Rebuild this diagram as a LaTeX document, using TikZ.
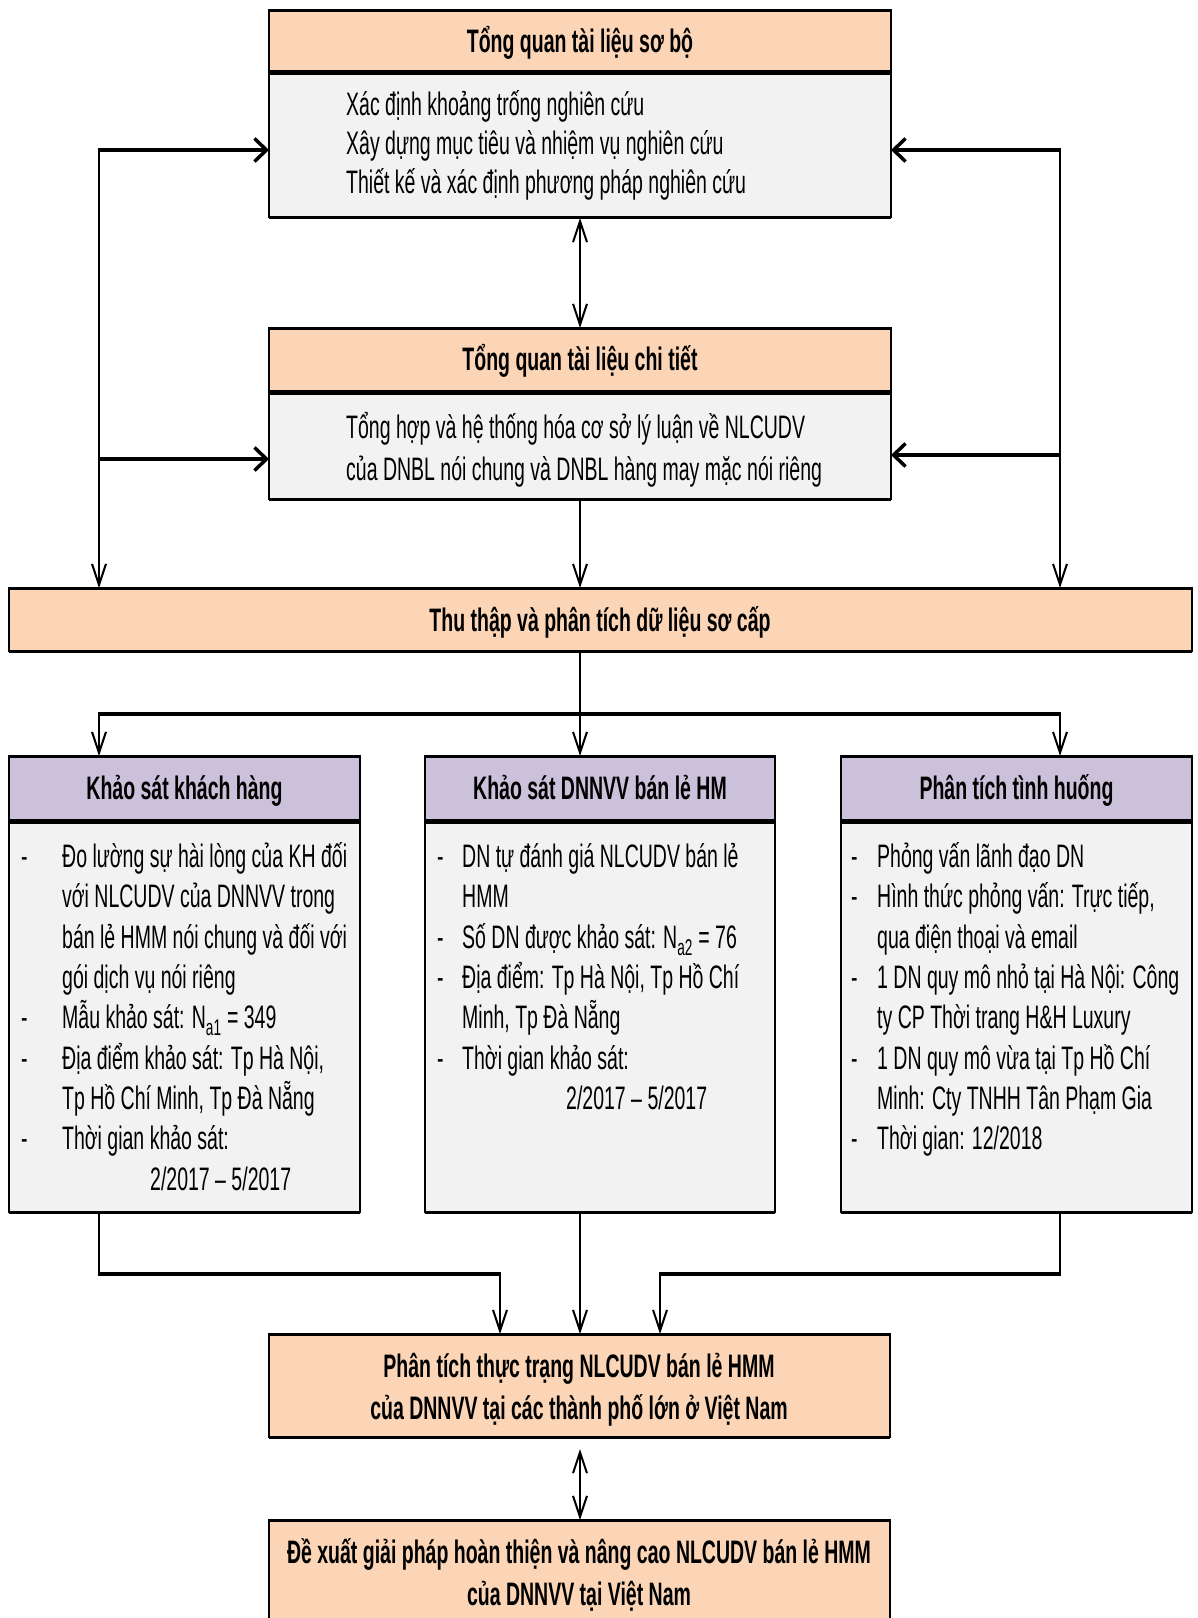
\documentclass[tikz,border=0pt]{standalone}
\usepackage{fontspec}
\setmainfont{Liberation Sans}[FakeStretch=0.6]
\usetikzlibrary{arrows.meta,fit}
\definecolor{peach}{HTML}{FBD5B5}
\definecolor{lilac}{HTML}{CCC1DA}
\definecolor{panel}{HTML}{F2F2F2}

% a box whose top and bottom edges are heavier than its sides
\newcommand\panelbox[4]{%
  \node[box, fill=#2, fit={#3 #4}] (#1) {};
  \draw[hedge] (#1.north west) -- (#1.north east) (#1.south west) -- (#1.south east);}

\begin{document}
\begin{tikzpicture}[x=1pt,y=-1pt,
  box/.style={draw=black, line width=1.2pt, inner sep=0pt, outer sep=0pt},
  hedge/.style={line width=3pt},
  vline/.style={line width=2pt},
  hline/.style={line width=4pt},
  vtip/.tip={Straight Barb[length=21pt,width=14pt,line width=2pt]},
  htip/.tip={Straight Barb[length=12pt,width=23pt,line width=3.5pt]},
  txt/.style={inner sep=0pt, anchor=base west, font=\fontsize{32.5}{32.5}\selectfont},
  ttl/.style={inner sep=0pt, anchor=base, font=\bfseries\fontsize{32.5}{32.5}\selectfont}]

\useasboundingbox (0,0) rectangle (1198,1618);
\clip (0,0) rectangle (1198,1618);

% ---------- boxes ----------
\panelbox{h1}{peach}{(269,10)}{(891,71)}
\panelbox{b1}{panel}{(269,73)}{(891,217)}
\panelbox{h2}{peach}{(269,328)}{(891,391)}
\panelbox{b2}{panel}{(269,393)}{(891,499)}
\panelbox{data}{peach}{(9,588)}{(1192,651)}
\panelbox{c1h}{lilac}{(9,756)}{(360,820)}
\panelbox{c1b}{panel}{(9,822)}{(360,1212)}
\panelbox{c2h}{lilac}{(425,756)}{(775,820)}
\panelbox{c2b}{panel}{(425,822)}{(775,1212)}
\panelbox{c3h}{lilac}{(841,756)}{(1192,820)}
\panelbox{c3b}{panel}{(841,822)}{(1192,1212)}
\panelbox{res}{peach}{(269,1334)}{(890,1437)}
\panelbox{prop}{peach}{(269,1520)}{(890,1660)}

% ---------- titles ----------
\node[ttl] (h1t) at (580,52) {Tổng quan tài liệu sơ bộ};
\node[ttl] (h2t) at (580,370) {Tổng quan tài liệu chi tiết};
\node[ttl] (datat) at (600,631) {Thu thập và phân tích dữ liệu sơ cấp};
\node[ttl] (c1t) at (184.5,799) {Khảo sát khách hàng};
\node[ttl] (c2t) at (600,799) {Khảo sát DNNVV bán lẻ HM};
\node[ttl] (c3t) at (1016.5,799) {Phân tích tình huống};
\node[ttl] (rest1) at (579,1377) {Phân tích thực trạng NLCUDV bán lẻ HMM};
\node[ttl] (rest2) at (579,1419) {của DNNVV tại các thành phố lớn ở Việt Nam};
\node[ttl] (propt1) at (579,1563) {Đề xuất giải pháp hoàn thiện và nâng cao NLCUDV bán lẻ HMM};
\node[ttl] (propt2) at (579,1605) {của DNNVV tại Việt Nam};

% ---------- upper panels ----------
\node[txt] (b1l1) at (346,115) {Xác định khoảng trống nghiên cứu};
\node[txt] (b1l2) at (346,154) {Xây dựng mục tiêu và nhiệm vụ nghiên cứu};
\node[txt] (b1l3) at (346,193) {Thiết kế và xác định phương pháp nghiên cứu};
\node[txt] (b2l1) at (346,438) {Tổng hợp và hệ thống hóa cơ sở lý luận về NLCUDV};
\node[txt] (b2l2) at (346,480) {của DNBL nói chung và DNBL hàng may mặc nói riêng};

% ---------- column 1 ----------
\node[txt] (c1d1) at (21,867) {-};
\node[txt] (c1l1) at (62,867) {Đo lường sự hài lòng của KH đối};
\node[txt] (c1l2) at (62,907) {với NLCUDV của DNNVV trong};
\node[txt] (c1l3) at (62,948) {bán lẻ HMM nói chung và đối với};
\node[txt] (c1l4) at (62,988) {gói dịch vụ nói riêng};
\node[txt] (c1d2) at (21,1028) {-};
\node[txt] (c1l5) at (62,1028) {Mẫu khảo sát: N\textsubscript{a1} = 349};
\node[txt] (c1d3) at (21,1069) {-};
\node[txt] (c1l6) at (62,1069) {Địa điểm khảo sát: Tp Hà Nội,};
\node[txt] (c1l7) at (62,1109) {Tp Hồ Chí Minh, Tp Đà Nẵng};
\node[txt] (c1d4) at (21,1149) {-};
\node[txt] (c1l8) at (62,1149) {Thời gian khảo sát:};
\node[txt] (c1l9) at (150,1190) {2/2017 – 5/2017};

% ---------- column 2 ----------
\node[txt] (c2d1) at (437,867) {-};
\node[txt] (c2l1) at (462,867) {DN tự đánh giá NLCUDV bán lẻ};
\node[txt] (c2l2) at (462,907) {HMM};
\node[txt] (c2d2) at (437,948) {-};
\node[txt] (c2l3) at (462,948) {Số DN được khảo sát: N\textsubscript{a2} = 76};
\node[txt] (c2d3) at (437,988) {-};
\node[txt] (c2l4) at (462,988) {Địa điểm: Tp Hà Nội, Tp Hồ Chí};
\node[txt] (c2l5) at (462,1028) {Minh, Tp Đà Nẵng};
\node[txt] (c2d4) at (437,1069) {-};
\node[txt] (c2l6) at (462,1069) {Thời gian khảo sát:};
\node[txt] (c2l7) at (566,1109) {2/2017 – 5/2017};

% ---------- column 3 ----------
\node[txt] (c3d1) at (851,867) {-};
\node[txt] (c3l1) at (877,867) {Phỏng vấn lãnh đạo DN};
\node[txt] (c3d2) at (851,907) {-};
\node[txt] (c3l2) at (877,907) {Hình thức phỏng vấn: Trực tiếp,};
\node[txt] (c3l3) at (877,948) {qua điện thoại và email};
\node[txt] (c3d3) at (851,988) {-};
\node[txt] (c3l4) at (877,988) {1 DN quy mô nhỏ tại Hà Nội: Công};
\node[txt] (c3l5) at (877,1028) {ty CP Thời trang H\&H Luxury};
\node[txt] (c3d4) at (851,1069) {-};
\node[txt] (c3l6) at (877,1069) {1 DN quy mô vừa tại Tp Hồ Chí};
\node[txt] (c3l7) at (877,1109) {Minh: Cty TNHH Tân Phạm Gia};
\node[txt] (c3d5) at (851,1149) {-};
\node[txt] (c3l8) at (877,1149) {Thời gian: 12/2018};

% ---------- reference columns for connectors ----------
\coordinate (xl) at (99,0);
\coordinate (xm) at (580,0);
\coordinate (xr) at (1060,0);
\coordinate (xa) at (500,0);
\coordinate (xb) at (660,0);

% feedback loops on both sides
\coordinate (lt) at (98,150);  \coordinate (ltv) at (99,148);
\coordinate (lm) at (98,459);
\coordinate (rt) at (1061,150); \coordinate (rtv) at (1060,148);
\coordinate (rm) at (1061,455);
\draw[vline,-vtip] (ltv) -- (data.north -| xl);
\draw[hline,-htip] (lt) -- (lt -| b1.west);
\draw[hline,-htip] (lm) -- (lm -| b2.west);
\draw[vline,-vtip] (rtv) -- (data.north -| xr);
\draw[hline,-htip] (rt) -- (rt -| b1.east);
\draw[hline,-htip] (rm) -- (rm -| b2.east);

% central spine
\draw[vline,vtip-vtip] ([yshift=-1pt]b1.south -| xm) -- (h2.north -| xm);
\draw[vline,-vtip] (b2.south -| xm) -- (data.north -| xm);

% fan-out to the three surveys
\coordinate (fl) at (98,714); \coordinate (fr) at (1061,714);
\coordinate (flv) at (99,712); \coordinate (frv) at (1060,712);
\draw[vline,-vtip] (data.south -| xm) -- (c2h.north -| xm);
\draw[hline] (fl) -- (fr);
\draw[vline,-vtip] (flv) -- (c1h.north -| xl);
\draw[vline,-vtip] (frv) -- (c3h.north -| xr);

% merge into the analysis box
\coordinate (ml) at (99,1274); \coordinate (mr) at (1060,1274);
\draw[vline] (c1b.south -| xl) -- ([yshift=-2pt]ml);
\draw[hline] ([xshift=-1pt]ml) -- ([xshift=1pt]ml -| xa);
\draw[vline,-vtip] ([yshift=2pt]ml -| xa) -- (res.north -| xa);
\draw[vline] (c3b.south -| xr) -- ([yshift=-2pt]mr);
\draw[hline] ([xshift=1pt]mr) -- ([xshift=-1pt]mr -| xb);
\draw[vline,-vtip] ([yshift=2pt]mr -| xb) -- (res.north -| xb);
\draw[vline,-vtip] (c2b.south -| xm) -- (res.north -| xm);

% link to the proposals
\coordinate (gap) at (580,1449);
\draw[vline,vtip-vtip] (gap) -- (prop.north -| xm);
\end{tikzpicture}
\end{document}
